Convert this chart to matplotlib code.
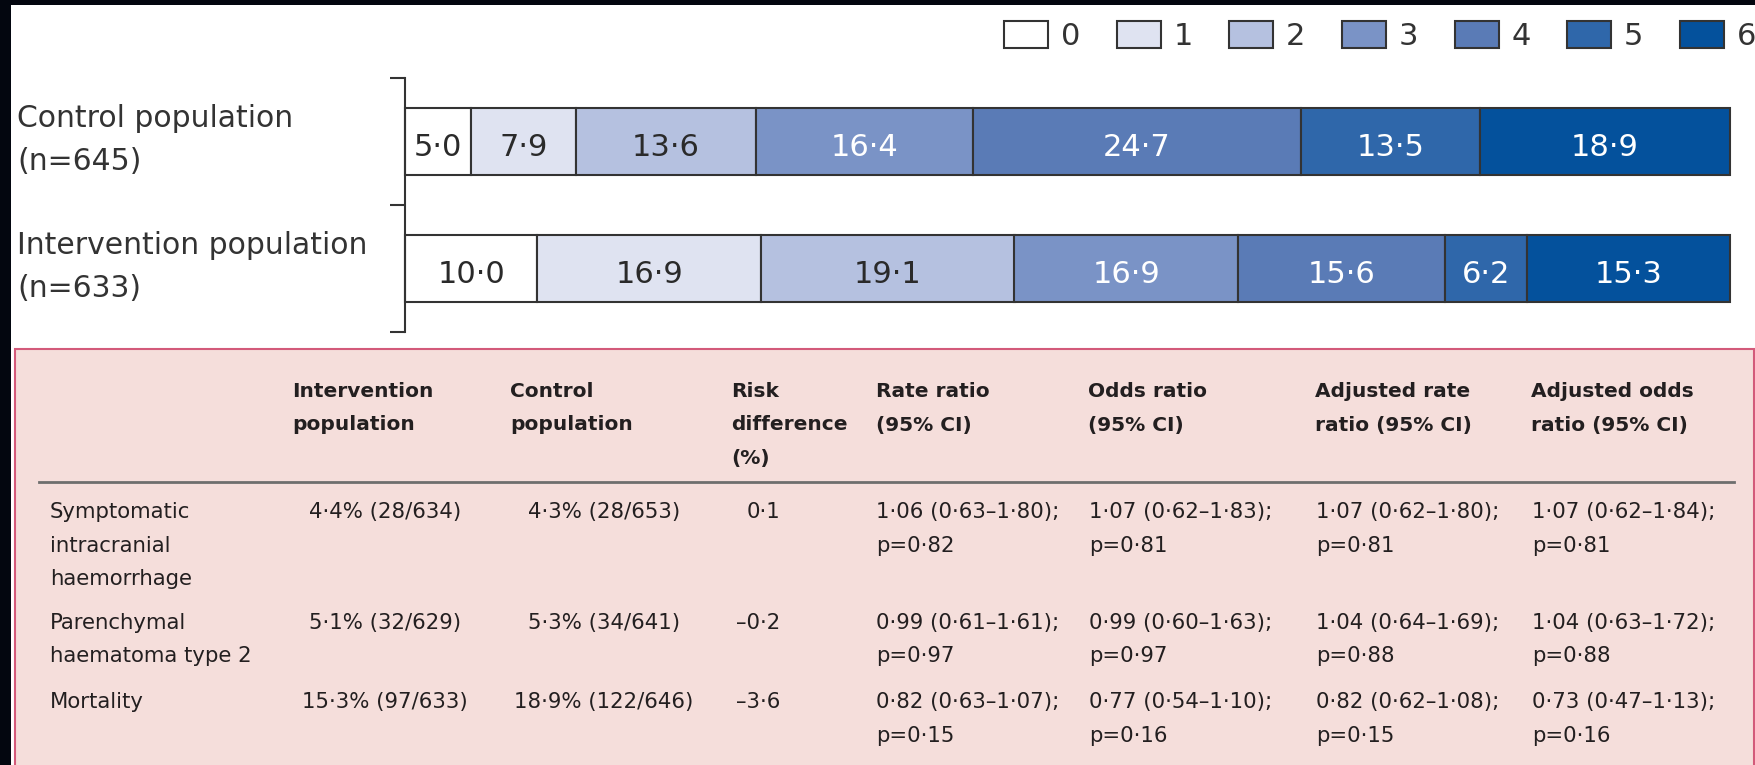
import matplotlib
matplotlib.use("Agg")
import matplotlib.pyplot as plt
from matplotlib.patches import Rectangle
import numpy as np

# ---------------- data ----------------
categories = ["0", "1", "2", "3", "4", "5", "6"]
groups = [["Control population", "(n=645)"], ["Intervention population", "(n=633)"]]
control = [5.0, 7.9, 13.6, 16.4, 24.7, 13.5, 18.9]
intervention = [10.0, 16.9, 19.1, 16.9, 15.6, 6.2, 15.3]
seg_colors = ["#ffffff", "#dfe3f1", "#b5c1e0", "#7a93c6", "#5a7bb6", "#2f67aa", "#04519c"]
label_colors = ["#2a2a2a", "#2a2a2a", "#2a2a2a", "#ffffff", "#ffffff", "#ffffff", "#ffffff"]

col_headers = ["Intervention\npopulation", "Control\npopulation", "Risk\ndifference\n(%)",
               "Rate ratio\n(95% CI)", "Odds ratio\n(95% CI)",
               "Adjusted rate\nratio (95% CI)", "Adjusted odds\nratio (95% CI)"]
row_labels = ["Symptomatic\nintracranial\nhaemorrhage", "Parenchymal\nhaematoma type 2", "Mortality"]
intervention_rates = ["4·4% (28/634)", "5·1% (32/629)", "15·3% (97/633)"]
control_rates = ["4·3% (28/653)", "5·3% (34/641)", "18·9% (122/646)"]
risk_diff = ["0·1", "–0·2", "–3·6"]
rate_ratio = ["1·06 (0·63–1·80);\np=0·82", "0·99 (0·61–1·61);\np=0·97", "0·82 (0·63–1·07);\np=0·15"]
odds_ratio = ["1·07 (0·62–1·83);\np=0·81", "0·99 (0·60–1·63);\np=0·97", "0·77 (0·54–1·10);\np=0·16"]
adj_rate_ratio = ["1·07 (0·62–1·80);\np=0·81", "1·04 (0·64–1·69);\np=0·88", "0·82 (0·62–1·08);\np=0·15"]
adj_odds_ratio = ["1·07 (0·62–1·84);\np=0·81", "1·04 (0·63–1·72);\np=0·88", "0·73 (0·47–1·13);\np=0·16"]

# ---------------- figure ----------------
W, H = 1756, 765
fig = plt.figure(figsize=(W / 100, H / 100), dpi=100)
fig.patch.set_facecolor("white")


def fx(x):
    return x / W


def fy(y):
    return 1 - y / H


# black frame pieces (top and left)
fig.patches.append(Rectangle((0, fy(5)), 1, 5 / H, transform=fig.transFigure,
                             facecolor="#03060f", edgecolor="none", zorder=0))
fig.patches.append(Rectangle((0, 0), 11 / W, 1, transform=fig.transFigure,
                             facecolor="#03060f", edgecolor="none", zorder=0))
# pink table panel
fig.patches.append(Rectangle((fx(15), -0.05), (1754 - 15) / W, fy(349) + 0.05,
                             transform=fig.transFigure, facecolor="#f5dedb",
                             edgecolor="#d35a7a", linewidth=1.5, zorder=0))

# ---------------- stacked bars ----------------
ax = fig.add_axes([fx(405), fy(332), (1730 - 405) / W, (332 - 78) / H])
ax.set_facecolor("none")
data = np.array([control, intervention])
ypos = np.arange(len(groups))
lefts = np.hstack([np.zeros((2, 1)), np.cumsum(data, axis=1)[:, :-1]])
for j, cat in enumerate(categories):
    ax.barh(ypos, data[:, j], left=lefts[:, j], height=0.52, color=seg_colors[j],
            edgecolor="#333333", linewidth=1.5, label=cat, clip_on=False)
    for i in range(len(groups)):
        v = data[i, j]
        ax.annotate(f"{v:.1f}".replace(".", "·"), xy=(lefts[i, j] + v / 2, ypos[i]),
                    xytext=(0, -10.5), textcoords="offset points",
                    ha="center", va="baseline", fontsize=22, color=label_colors[j])

ax.set_xlim(0, 100)
ax.set_ylim(1.5, -0.5)
for s in ["top", "right", "bottom"]:
    ax.spines[s].set_visible(False)
ax.spines["left"].set_color("#333333")
ax.spines["left"].set_linewidth(1.5)
ax.set_xticks([])
ax.set_yticks([-0.5, 0.5, 1.5])
ax.set_yticklabels([])
ax.tick_params(axis="y", direction="out", length=10.5, width=1.5, color="#333333")

for i, (l1, l2) in enumerate(groups):
    ax.annotate(l1, xy=(fx(17), ypos[i]), xycoords=("figure fraction", "data"),
                xytext=(0, 10.8), textcoords="offset points",
                ha="left", va="baseline", fontsize=21.5, color="#333333")
    ax.annotate(l2, xy=(fx(17), ypos[i]), xycoords=("figure fraction", "data"),
                xytext=(0, -20.5), textcoords="offset points",
                ha="left", va="baseline", fontsize=21.5, color="#333333")

ax.legend(ncol=7, loc="center right", bbox_to_anchor=(fx(1756), fy(36)),
          bbox_transform=fig.transFigure, frameon=False, fontsize=22,
          handlelength=1.44, handleheight=0.98, handletextpad=0.42,
          columnspacing=1.19, borderpad=0, borderaxespad=0, labelcolor="#333333")

# ---------------- table ----------------
txt_color = "#231f20"
header_x = [292, 510, 731, 876, 1088, 1315, 1531]
header_base = 397
line_step = 33.5
for x, h in zip(header_x, col_headers):
    for k, line in enumerate(h.split("\n")):
        fig.text(fx(x), fy(header_base + k * line_step), line, ha="left", va="baseline",
                 fontsize=14.5, fontweight="bold", color=txt_color)

fig.add_artist(plt.Line2D([fx(39), fx(1734)], [fy(482), fy(482)], color="#6e6e6e",
                          linewidth=2, transform=fig.transFigure))

row_base = [518, 629, 708]
columns = [
    (intervention_rates, 385, "center"),
    (control_rates, 604, "center"),
    (risk_diff, 780, "right"),
    (rate_ratio, 876, "left"),
    (odds_ratio, 1089, "left"),
    (adj_rate_ratio, 1316, "left"),
    (adj_odds_ratio, 1532, "left"),
]
body_fs = 15.3
for r, lab in enumerate(row_labels):
    for k, line in enumerate(lab.split("\n")):
        fig.text(fx(50), fy(row_base[r] + k * line_step), line, ha="left", va="baseline",
                 fontsize=body_fs, color=txt_color)
    for values, x, ha in columns:
        for k, line in enumerate(values[r].split("\n")):
            fig.text(fx(x), fy(row_base[r] + k * line_step), line, ha=ha, va="baseline",
                     fontsize=body_fs, color=txt_color)

fig.savefig("out.png", dpi=100, facecolor=fig.get_facecolor())
